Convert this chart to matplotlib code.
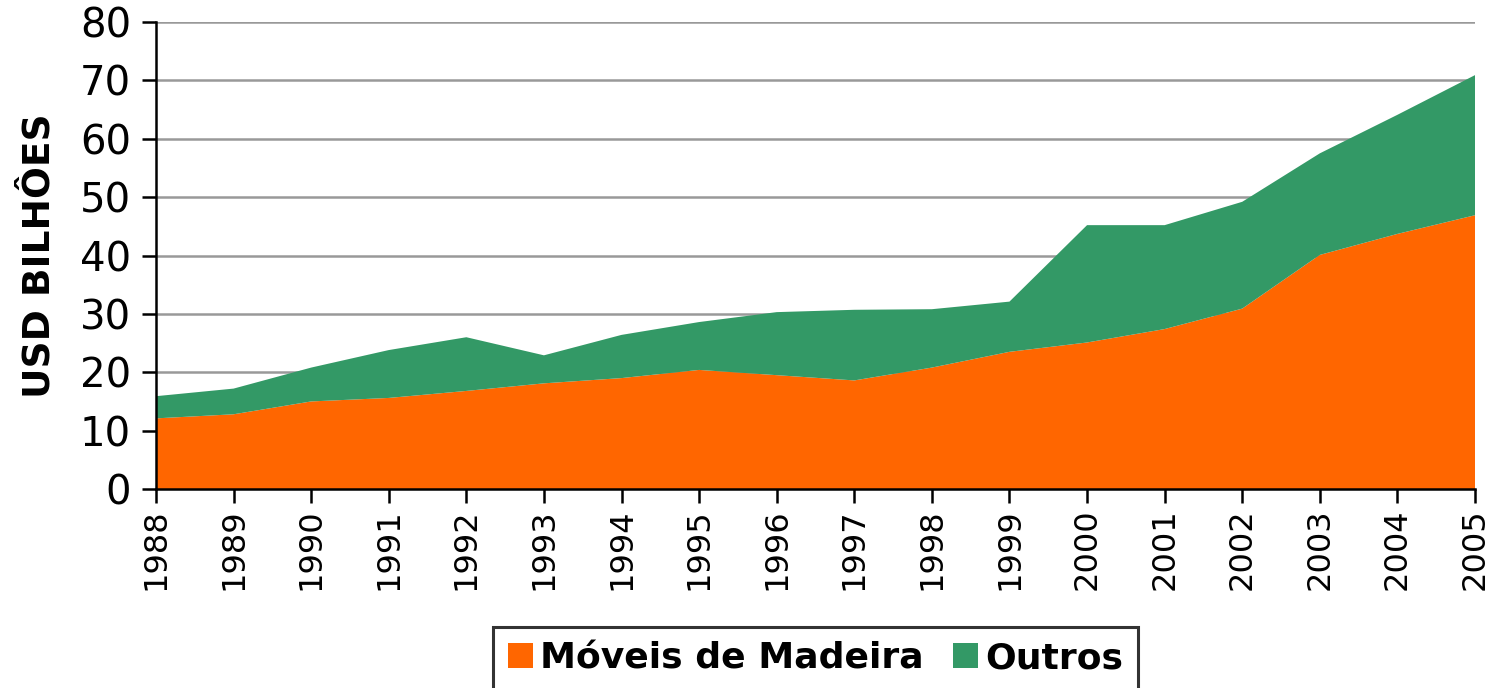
import matplotlib.pyplot as plt

# Dados (USD bilhões)
anos = [1988, 1989, 1990, 1991, 1992, 1993, 1994, 1995, 1996,
        1997, 1998, 1999, 2000, 2001, 2002, 2003, 2004, 2005]
moveis_madeira = [12.1, 12.8, 15.0, 15.6, 16.8, 18.1, 19.0, 20.4, 19.5,
                  18.6, 20.8, 23.5, 25.1, 27.4, 30.9, 40.1, 43.7, 46.9]
total = [15.9, 17.2, 20.8, 23.8, 26.0, 22.9, 26.4, 28.6, 30.3,
         30.7, 30.8, 32.1, 45.2, 45.2, 49.2, 57.5, 64.1, 70.9]
outros = [t - m for t, m in zip(total, moveis_madeira)]

cor_moveis = "#FF6600"
cor_outros = "#339966"


def main():
    fig = plt.figure(figsize=(15.04, 6.88), dpi=100)
    ax = fig.add_axes([156 / 1504, 1 - 489 / 688, (1475 - 156) / 1504, (489 - 22) / 688])

    ax.stackplot(anos, moveis_madeira, outros,
                 colors=[cor_moveis, cor_outros],
                 labels=["Móveis de Madeira", "Outros"], zorder=2)

    ax.set_xlim(anos[0], anos[-1])
    ax.set_ylim(0, 80)
    ax.set_yticks(range(0, 81, 10))
    ax.set_xticks(anos)
    ax.set_xticklabels([str(a) for a in anos], rotation=90)

    ax.yaxis.grid(True, color="#999999", linewidth=1.8, zorder=1)
    ax.set_axisbelow(True)

    for s in ["top", "right"]:
        ax.spines[s].set_visible(False)
    for s in ["left", "bottom"]:
        ax.spines[s].set_linewidth(1.8)
        ax.spines[s].set_zorder(3)

    ax.tick_params(axis="y", labelsize=29, length=10, width=1.8, pad=8)
    ax.tick_params(axis="x", labelsize=23, length=10, width=1.8, pad=4)

    ax.set_ylabel("USD BILHÔES", fontsize=27, fontweight="bold", labelpad=16)

    leg = ax.legend(loc="upper center", bbox_to_anchor=(0.5, -0.295),
                    ncol=2, fancybox=False, frameon=True,
                    prop={"size": 26, "weight": "bold"},
                    handlelength=0.7, handleheight=0.7, handletextpad=0.2,
                    columnspacing=0.8, borderpad=0.4, borderaxespad=0)
    leg.get_frame().set_edgecolor("black")
    leg.get_frame().set_linewidth(2.2)

    fig.savefig("out.png", dpi=100)
    plt.close(fig)


if __name__ == "__main__":
    main()
